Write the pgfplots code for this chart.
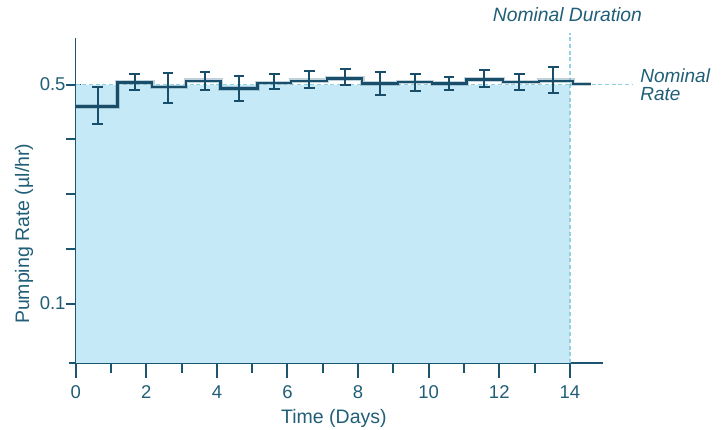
\documentclass[border=0pt]{standalone}
\usepackage{pgfplots}
\pgfplotsset{compat=1.18}
\usepackage{pgfplotstable}
\usepackage{fontspec}
\setmainfont{Liberation Sans}
\definecolor{axc}{HTML}{1B5570}
\definecolor{txc}{HTML}{215E78}
\definecolor{linec}{HTML}{184E69}
\definecolor{fillc}{HTML}{C6E9F8}
\definecolor{dashc}{HTML}{92D2DE}
\definecolor{haloc}{HTML}{7FA3B5}

\pgfplotstableread{
x y
0 0.460
1.18 0.504
2.17 0.496
3.13 0.507
4.10 0.493
5.15 0.503
6.10 0.507
7.12 0.511
8.12 0.502
9.13 0.505
10.10 0.502
11.07 0.509
12.10 0.505
13.12 0.507
14.08 0.501
14.60 0.501
}\steps

\pgfplotstableread{
x y ep em
0.62 0.460 0.0356 0.032
1.67 0.504 0.015 0.014
2.62 0.4963 0.0247 0.0303
3.66 0.507 0.0155 0.016
4.63 0.493 0.022 0.023
5.63 0.503 0.017 0.011
6.62 0.5066 0.0174 0.0126
7.64 0.511 0.017 0.0115
8.63 0.502 0.0205 0.021
9.62 0.505 0.014 0.017
10.58 0.502 0.012 0.012
11.58 0.509 0.017 0.0134
12.57 0.505 0.014 0.015
13.53 0.507 0.025 0.022
}\errs

\begin{document}
\begin{tikzpicture}
\useasboundingbox (-75.7pt,-67pt) rectangle (651.3pt,363pt);
\begin{axis}[
  at={(0pt,0pt)}, anchor=south west,
  scale only axis, width=527pt, height=325.4pt,
  xmin=0, xmax=14.93, ymin=-0.0085, ymax=0.5858,
  axis x line*=bottom, axis y line*=left,
  axis line style={axc, line width=1.6pt, -},
  x axis line style={shorten <=-6.7pt},
  xtick={0,2,...,14}, minor xtick={1,3,...,13},
  ytick={0.1,0.2,0.3,0.4,0.5}, yticklabels={0.1,,,,0.5},
  major y tick style={xshift=5pt},
  tick align=outside,
  major tick length=15pt, minor tick length=10pt,
  tick style={draw=axc, line width=2pt},
  tick label style={font=\fontsize{18.5}{20}\selectfont, text=txc},
  yticklabel style={inner sep=1pt, xshift=6pt},
  xticklabel style={yshift=-4pt},
  /pgf/number format/assume math mode=true,
  xlabel={Time (Days)}, ylabel={Pumping Rate (µl/hr)},
  label style={font=\fontsize{19.5}{22}\selectfont, text=txc},
  xlabel style={at={(axis description cs:0.49,-0.17)}, anchor=center},
  ylabel style={at={(axis description cs:-0.098,0.397)}, anchor=center},
  clip=false,
]
\addplot[fill=fillc, draw=none] coordinates {(0,-0.0085) (0,0.5) (14,0.5) (14,-0.0085)};
\addplot[dashc, line width=1.3pt, dash pattern=on 4pt off 2.7pt] coordinates {(0,0.5) (15.76,0.5)};
\addplot[dashc, line width=1.3pt, dash pattern=on 4pt off 2.7pt] coordinates {(14,-0.0085) (14,0.5937)};
\addplot[const plot, haloc, opacity=0.5, line width=4.5pt] table {\steps};
\addplot[const plot, linec, line width=2.3pt] table {\steps};
\addplot[draw=none, mark=none,
  error bars/.cd, y dir=both, y explicit,
  error bar style={draw=linec, line width=2pt},
  error mark options={rotate=90, draw=linec, mark size=5.3pt, line width=2pt}]
  table[x=x, y=y, y error plus=ep, y error minus=em] {\errs};
\node[anchor=base, inner sep=0pt, font=\fontsize{19.3}{20}\selectfont\itshape, text=txc] at (axis cs:13.93,0.6143) {Nominal Duration};
\node[anchor=base west, inner sep=0pt, font=\fontsize{19}{20}\selectfont\itshape, text=txc] at (axis cs:15.99,0.5047) {Nominal};
\node[anchor=base west, inner sep=0pt, font=\fontsize{19}{20}\selectfont\itshape, text=txc] at (axis cs:15.99,0.4713) {Rate};
\end{axis}
\end{tikzpicture}
\end{document}
